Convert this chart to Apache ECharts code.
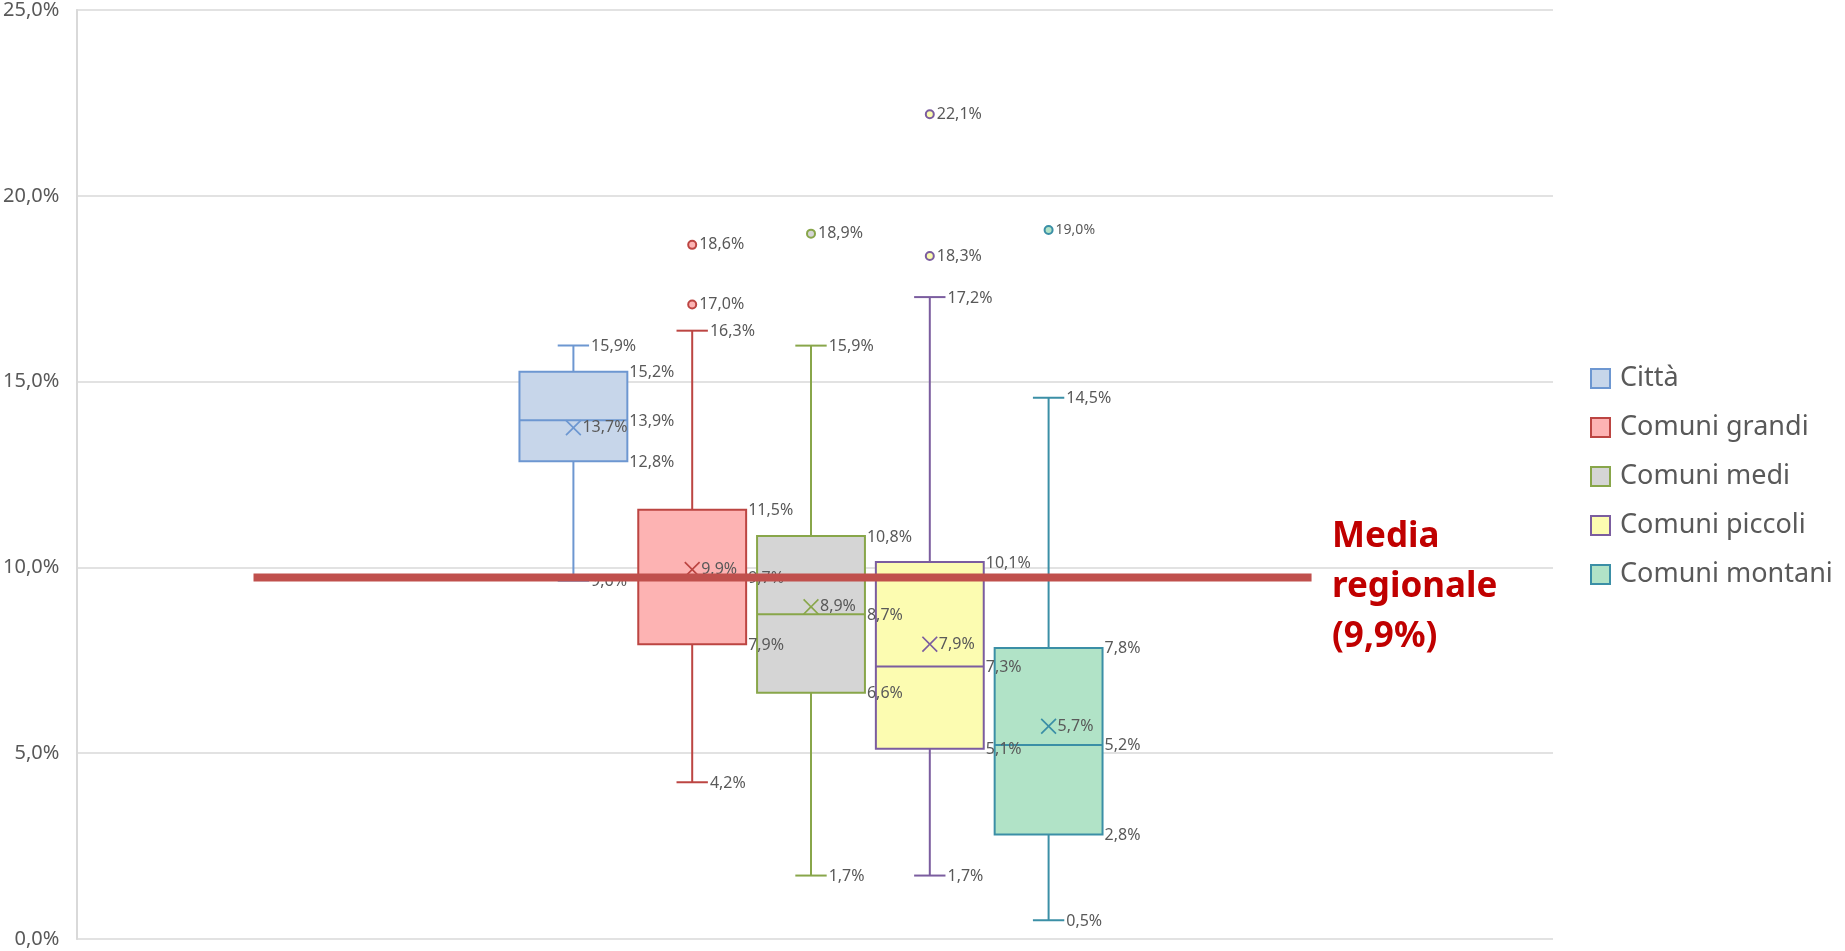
<!DOCTYPE html>
<html>
<head>
<meta charset="utf-8">
<title>Box plot</title>
<script src="https://cdn.jsdelivr.net/npm/echarts@6/dist/echarts.min.js"></script>
<style>
  html, body { margin: 0; padding: 0; background: #fff; }
  #chart { width: 1845px; height: 951px; }
</style>
</head>
<body>
<div id="chart"></div>
<script>
// data (percent)
const groups = ['Città', 'Comuni grandi', 'Comuni medi', 'Comuni piccoli', 'Comuni montani'];
const mins = [9.6, 4.2, 1.7, 1.7, 0.5];
const q1s = [12.8, 7.9, 6.6, 5.1, 2.8];
const medians = [13.9, 9.7, 8.7, 7.3, 5.2];
const q3s = [15.2, 11.5, 10.8, 10.1, 7.8];
const maxs = [15.9, 16.3, 15.9, 17.2, 14.5];
const means = [13.7, 9.9, 8.9, 7.9, 5.7];
const outliers = [[], [17.0, 18.6], [18.9], [18.3, 22.1], [19.0]];

// regional average line (drawn level) and its caption
const regionalLevel = 9.73;
const regionalSpan = [0.12, 0.8365];
const regionalText = 'Media\nregionale\n(9,9%)';

const borderColors = ['#6d97d1', '#bc4542', '#88a64a', '#7b5d9f', '#3b8fa6'];
const fillColors = ['#c7d6ea', '#fdb3b3', '#d5d5d5', '#fcfcb1', '#b1e3c7'];
const labelColor = '#595959';
const font = '"Noto Sans", "Open Sans", sans-serif';

const pct = v => v.toFixed(1).replace('.', ',') + '%';

const chart = echarts.init(document.getElementById('chart'));

function boxRenderer(i) {
  return function (params, api) {
    const cat = api.value(0);
    const band = api.size([1, 0])[0];
    const half = band * 0.454;
    const capHalf = band * 0.132;
    const cx = api.coord([cat, 0])[0];
    const y = k => api.coord([cat, api.value(k)])[1];
    const yMin = y(1), yQ1 = y(2), yMed = y(3), yQ3 = y(4), yMax = y(5);
    const stroke = { stroke: borderColors[i], lineWidth: 2 };
    const line = (x1, y1, x2, y2) => ({ type: 'line', shape: { x1, y1, x2, y2 }, style: stroke });
    const text = (x, yy, v) => ({
      type: 'text', z2: 10, x, y: yy + 1,
      style: { text: pct(v), fill: labelColor, font: '16px ' + font, align: 'left', verticalAlign: 'middle' }
    });
    return {
      type: 'group',
      children: [
        line(cx, yQ3, cx, yMax),
        line(cx, yQ1, cx, yMin),
        line(cx - capHalf, yMax, cx + capHalf, yMax),
        line(cx - capHalf, yMin, cx + capHalf, yMin),
        {
          type: 'rect',
          shape: { x: cx - half, y: yQ3, width: half * 2, height: yQ1 - yQ3 },
          style: { fill: fillColors[i], stroke: borderColors[i], lineWidth: 2 }
        },
        line(cx - half, yMed, cx + half, yMed),
        text(cx + capHalf + 2, yMax, api.value(5)),
        text(cx + capHalf + 2, yMin, api.value(1)),
        text(cx + half + 2, yQ3, api.value(4)),
        text(cx + half + 2, yMed, api.value(3)),
        text(cx + half + 2, yQ1, api.value(2))
      ]
    };
  };
}

const series = [];
groups.forEach((name, i) => {
  series.push({
    name,
    type: 'custom',
    xAxisIndex: 1,
    yAxisIndex: 1,
    itemStyle: { color: fillColors[i], borderColor: borderColors[i] },
    encode: { x: 0, y: [1, 2, 3, 4, 5] },
    data: [[i, mins[i], q1s[i], medians[i], q3s[i], maxs[i]]],
    renderItem: boxRenderer(i)
  });
  series.push({
    name,
    type: 'scatter',
    xAxisIndex: 1,
    yAxisIndex: 1,
    z: 3,
    symbol: 'circle',
    symbolSize: 8,
    itemStyle: { color: fillColors[i], borderColor: borderColors[i], borderWidth: 2, opacity: 1 },
    label: {
      show: true, position: 'right', distance: 2,
      formatter: p => pct(p.value[1]),
      color: labelColor, fontSize: i === 4 ? 14 : 16, fontFamily: font
    },
    data: outliers[i].map(v => [i, v])
  });
  series.push({
    name,
    type: 'scatter',
    xAxisIndex: 1,
    yAxisIndex: 1,
    z: 3,
    symbol: 'path://M0,1.2L1.2,0L8,6.8L14.8,0L16,1.2L9.2,8L16,14.8L14.8,16L8,9.2L1.2,16L0,14.8L6.8,8Z',
    symbolSize: 16,
    itemStyle: { color: borderColors[i], opacity: 1 },
    label: {
      show: true, position: 'right', distance: 1,
      formatter: p => pct(p.value[1]),
      color: labelColor, fontSize: 16, fontFamily: font
    },
    data: [[i, means[i]]]
  });
});

series.push({
  name: 'Media regionale',
  type: 'line',
  xAxisIndex: 0,
  yAxisIndex: 0,
  z: 6,
  silent: true,
  symbol: 'none',
  lineStyle: { color: '#c0504d', width: 8, cap: 'butt' },
  data: regionalSpan.map(x => [x, regionalLevel])
});

chart.setOption({
  animation: false,
  backgroundColor: '#fff',
  grid: [
    { left: 76, right: 292, top: 6, bottom: 12 },
    { left: 514, right: 737, top: 6, bottom: 12 }
  ],
  xAxis: [
    { gridIndex: 0, type: 'value', min: 0, max: 1, show: false },
    { gridIndex: 1, type: 'category', data: groups, show: false }
  ],
  yAxis: [
    {
      gridIndex: 0, type: 'value', min: 0, max: 25, interval: 5,
      axisLine: { show: true, lineStyle: { color: '#d9d9d9', width: 2 } },
      axisTick: { show: false },
      axisLabel: { formatter: pct, color: labelColor, fontSize: 20, fontFamily: font, margin: 17 },
      splitLine: { lineStyle: { color: '#d9d9d9', width: 1.5 } }
    },
    { gridIndex: 1, type: 'value', min: 0, max: 25, show: false }
  ],
  legend: {
    orient: 'vertical',
    left: 1590,
    top: 365,
    padding: 0,
    icon: 'rect',
    itemWidth: 19,
    itemHeight: 19,
    itemGap: 22,
    selectedMode: false,
    data: groups.map((name, i) => ({
      name,
      itemStyle: { color: fillColors[i], borderColor: borderColors[i], borderWidth: 2 }
    })),
    textStyle: { fontSize: 27, color: labelColor, fontFamily: font, padding: [0, 0, 0, 5] }
  },
  graphic: [{
    type: 'text',
    left: 1332,
    top: 512,
    style: {
      text: regionalText,
      font: 'bold 35px ' + font,
      fill: '#c00000',
      lineHeight: 50
    }
  }],
  series
});
</script>
</body>
</html>
